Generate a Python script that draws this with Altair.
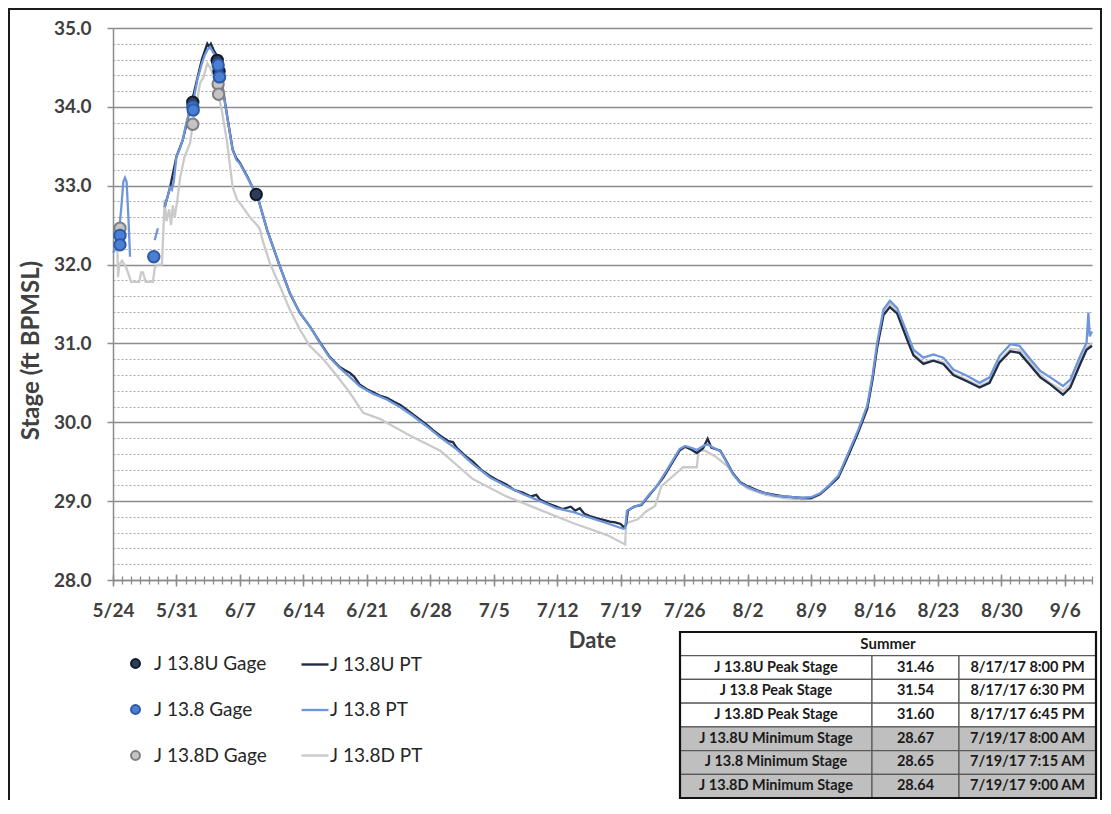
import altair as alt
import pandas as pd

# ---------------- data (days after 5/24/2017, stage in ft) ----------------
u_pt_days = [5.7, 6.3, 7.0, 7.7, 8.5, 9.3, 9.8, 10.1, 10.4, 10.6, 10.8, 11.1, 11.6, 12.0, 12.6, 13.2, 13.6,
             14.0, 14.8, 15.3, 15.9, 17.0, 18.4, 19.5, 20.6, 21.7, 22.8, 23.9, 25.0, 25.6, 26.1, 26.6, 27.2,
             28.0, 28.7, 29.4, 30.2, 31.0, 31.7, 32.4, 33.1, 33.8, 34.6, 35.3, 36.1, 37.0, 37.5, 37.9, 38.8,
             39.7, 40.6, 41.6, 42.5, 43.4, 44.3, 45.2, 46.1, 46.7, 47.1, 48.0, 48.9, 49.6, 50.5, 51.0, 51.5,
             52.0, 52.6, 53.5, 54.2, 54.8, 55.4, 56.0, 56.33, 56.6, 56.8, 57.5, 58.3, 59.2, 60.0, 60.7, 61.5,
             62.5, 63.1, 63.7, 64.4, 65.1, 65.6, 66.0, 67.0, 67.7, 68.4, 69.2, 70.0, 71.0, 72.0, 73.0, 74.0,
             75.0, 76.0, 77.0, 78.0, 79.0, 80.0, 80.7, 81.3, 82.2, 83.2, 83.8, 84.3, 85.0, 85.7, 86.5, 87.6,
             88.3, 89.4, 90.5, 91.6, 92.7, 94.2, 95.6, 96.7, 97.8, 99.0, 100.0, 101.2, 102.3, 103.4, 104.8,
             105.6, 106.7, 107.4, 108.0]
u_pt_vals = [32.73, 32.98, 33.37, 33.58, 33.97, 34.36, 34.60, 34.70, 34.80, 34.76, 34.80, 34.72, 34.62, 34.32,
             33.88, 33.46, 33.35, 33.29, 33.12, 33.00, 32.88, 32.44, 31.98, 31.64, 31.39, 31.22, 31.02, 30.83,
             30.70, 30.66, 30.63, 30.58, 30.48, 30.42, 30.38, 30.34, 30.31, 30.26, 30.22, 30.16, 30.10, 30.04,
             29.97, 29.90, 29.83, 29.76, 29.75, 29.68, 29.58, 29.50, 29.40, 29.32, 29.26, 29.21, 29.14, 29.11,
             29.06, 29.08, 29.02, 28.97, 28.93, 28.90, 28.93, 28.88, 28.91, 28.84, 28.81, 28.78, 28.76, 28.74,
             28.73, 28.71, 28.67, 28.70, 28.88, 28.93, 28.95, 29.08, 29.19, 29.30, 29.45, 29.64, 29.69, 29.66,
             29.61, 29.67, 29.79, 29.68, 29.64, 29.50, 29.35, 29.24, 29.19, 29.14, 29.10, 29.08, 29.06, 29.05,
             29.04, 29.04, 29.09, 29.19, 29.30, 29.47, 29.63, 29.87, 30.17, 30.55, 30.95, 31.36, 31.46, 31.38,
             31.05, 30.85, 30.74, 30.78, 30.74, 30.60, 30.52, 30.44, 30.50, 30.76, 30.90, 30.88, 30.72, 30.57,
             30.48, 30.35, 30.44, 30.74, 30.92, 30.97]

m_pt_days = [0.0, 0.3, 0.6, 0.9, 1.14, 1.32, 1.5, 1.7, 1.88,
             4.6, 4.95,
             5.7, 6.0, 6.3, 6.5, 6.7, 7.0, 7.3, 7.7, 8.1, 8.5, 8.9, 9.3, 9.8, 10.1, 10.4, 10.7, 11.1, 11.6,
             12.0, 12.6, 13.2, 13.6, 14.0, 14.8, 15.3, 15.9, 17.0, 18.4, 19.5, 20.6, 21.7, 22.8, 23.9, 25.0,
             26.1, 27.2, 28.7, 30.2, 31.7, 33.1, 34.6, 36.1, 37.9, 39.7, 41.6, 43.4, 45.2, 47.1, 48.9, 50.8,
             52.6, 54.5, 56.3, 56.5, 56.7, 57.5, 58.3, 59.2, 60.0, 60.7, 61.5, 62.5, 63.1, 63.7, 64.4, 65.1,
             65.6, 66.2, 67.0, 67.7, 68.4, 69.2, 70.0, 71.0, 72.0, 73.0, 74.0, 75.0, 76.0, 77.0, 78.0, 79.0,
             80.0, 80.7, 81.3, 82.2, 83.2, 83.8, 84.3, 85.0, 85.7, 86.5, 87.6, 88.3, 89.4, 90.5, 91.6, 92.7,
             94.2, 95.6, 96.7, 97.8, 99.0, 100.0, 101.2, 102.3, 103.4, 104.8, 105.6, 106.7, 107.4, 107.6,
             107.75, 108.0]
m_pt_vals = [32.15, 32.20, 32.35, 32.70, 33.05, 33.10, 33.05, 32.60, 32.10,
             32.31, 32.46,
             32.73, 32.85, 32.98, 32.95, 33.05, 33.37, 33.45, 33.58, 33.80, 33.96, 34.10, 34.34, 34.55, 34.65,
             34.72, 34.76, 34.68, 34.59, 34.30, 33.87, 33.45, 33.33, 33.28, 33.11, 33.00, 32.88, 32.44, 31.98,
             31.64, 31.39, 31.22, 31.01, 30.82, 30.69, 30.58, 30.46, 30.36, 30.29, 30.19, 30.08, 29.95, 29.81,
             29.66, 29.47, 29.30, 29.19, 29.09, 29.00, 28.91, 28.86, 28.79, 28.72, 28.65, 28.66, 28.88, 28.93,
             28.96, 29.09, 29.19, 29.32, 29.47, 29.66, 29.70, 29.68, 29.65, 29.70, 29.72, 29.68, 29.63, 29.49,
             29.34, 29.23, 29.18, 29.13, 29.10, 29.07, 29.06, 29.05, 29.04, 29.05, 29.10, 29.20, 29.32, 29.50,
             29.66, 29.90, 30.21, 30.60, 31.01, 31.43, 31.54, 31.45, 31.13, 30.92, 30.82, 30.86, 30.82, 30.67,
             30.59, 30.50, 30.57, 30.84, 30.99, 30.97, 30.80, 30.65, 30.57, 30.46, 30.54, 30.84, 31.01, 31.39,
             31.09, 31.15]
m_pt_seg = [1] * 9 + [2] * 2 + [3] * (len(m_pt_days) - 11)

d_pt_days = [0.45, 0.55, 0.7, 1.0, 1.5, 2.0, 2.2, 2.9, 3.1, 3.3, 3.6, 4.4, 4.6, 4.85, 5.4, 5.7, 5.9, 6.2, 6.4,
             6.6, 6.8, 7.1, 7.4, 7.9, 8.5, 8.8, 9.3, 9.6, 10.0, 10.4, 10.7, 10.9, 11.5, 12.0, 12.6, 13.2, 13.7,
             14.0, 14.8, 15.1, 15.9, 16.2, 16.5, 17.3, 18.4, 19.5, 20.6, 21.7, 23.2, 24.7, 26.1, 27.6, 29.5,
             30.9, 32.8, 36.1, 39.7, 43.4, 47.1, 50.8, 54.5, 56.5, 56.6, 57.9, 58.8, 59.8, 60.5, 61.8, 62.9,
             64.4, 64.6, 65.3, 66.4, 67.7, 69.2, 70.0, 72.0, 74.0, 76.0, 77.0, 78.0, 79.0, 80.0, 80.7, 81.3,
             82.2, 83.2, 83.8, 84.3, 85.0, 85.7, 86.5, 87.6, 88.3, 89.4, 90.5, 91.6, 92.7, 94.2, 95.6, 96.7,
             97.8, 99.0, 100.0, 101.2, 102.3, 103.4, 104.8, 105.6, 106.7, 107.4, 108.0]
d_pt_vals = [32.40, 31.84, 32.00, 32.05, 31.95, 31.78, 31.78, 31.78, 31.90, 31.90, 31.78, 31.78, 31.95, 32.00,
             32.00, 32.82, 32.55, 32.70, 32.50, 32.75, 32.60, 32.82, 33.10, 33.37, 33.54, 33.78, 34.09, 34.30,
             34.38, 34.55, 34.50, 34.45, 34.21, 33.96, 33.54, 32.98, 32.82, 32.78, 32.65, 32.60, 32.50, 32.45,
             32.31, 32.02, 31.73, 31.43, 31.18, 30.97, 30.80, 30.59, 30.38, 30.12, 30.04, 29.95, 29.83, 29.64,
             29.28, 29.06, 28.89, 28.72, 28.57, 28.45, 28.72, 28.77, 28.87, 28.94, 29.19, 29.32, 29.43, 29.43,
             29.64, 29.64, 29.57, 29.45, 29.23, 29.16, 29.08, 29.04, 29.02, 29.03, 29.08, 29.18, 29.30, 29.48,
             29.63, 29.88, 30.18, 30.55, 30.95, 31.38, 31.50, 31.42, 31.08, 30.87, 30.76, 30.79, 30.76, 30.62,
             30.54, 30.46, 30.52, 30.78, 30.93, 30.92, 30.76, 30.60, 30.50, 30.40, 30.48, 30.78, 30.95, 31.00]

u_gage_days = [8.8, 11.5, 11.7, 15.8]
u_gage_vals = [34.06, 34.59, 34.45, 32.89]
m_gage_days = [0.77, 0.77, 4.5, 8.8, 8.85, 11.6, 11.75]
m_gage_vals = [32.37, 32.25, 32.10, 34.00, 33.96, 34.53, 34.38]
d_gage_days = [0.77, 8.8, 11.6, 11.65]
d_gage_vals = [32.46, 33.78, 34.29, 34.16]

gage_names = ["J 13.8U Gage", "J 13.8 Gage", "J 13.8D Gage"]
pt_names = ["J 13.8U PT", "J 13.8 PT", "J 13.8D PT"]

table_title = "Summer"
table_labels = ["J 13.8U Peak Stage", "J 13.8 Peak Stage", "J 13.8D Peak Stage",
                "J 13.8U Minimum Stage", "J 13.8 Minimum Stage", "J 13.8D Minimum Stage"]
table_values = ["31.46", "31.54", "31.60", "28.67", "28.65", "28.64"]
table_times = ["8/17/17 8:00 PM", "8/17/17 6:30 PM", "8/17/17 6:45 PM",
               "7/19/17 8:00 AM", "7/19/17 7:15 AM", "7/19/17 9:00 AM"]

# ---------------- styling ----------------
FONT = "Lato"
TXT = "#404040"
AX = "#8c8c8c"
pt_colors = ["#1f2c44", "#6f96da", "#cacaca"]
gage_fill = ["#2e3d57", "#4b7fd4", "#c4c4c4"]
gage_stroke = ["#101a2b", "#2c5aa6", "#7f7f7f"]
W, H = 979, 552
N_DAYS = 108
BASE = pd.Timestamp("2017-05-24")


def ts(d):
    return (BASE + pd.Timedelta(days=d)).strftime("%Y-%m-%dT%H:%M:%S")


def dtobj(d):
    t = BASE + pd.Timedelta(days=d)
    return alt.DateTime(year=t.year, month=t.month, date=t.day)


X_DOMAIN = [dtobj(0), dtobj(N_DAYS)]
week_vals = [dtobj(7 * k) for k in range(N_DAYS // 7 + 1)]
day_vals = [dtobj(k) for k in range(N_DAYS + 1)]
major_y = list(range(28, 36))
minor_y = [round(28 + 0.2 * i, 1) for i in range(36) if i % 5 != 0]


def X(axis=None):
    return alt.X("t:T", scale=alt.Scale(domain=X_DOMAIN, nice=False), axis=axis)


def Y(axis=None):
    return alt.Y("v:Q", scale=alt.Scale(domain=[28, 35], nice=False, zero=False), axis=axis)


# ---------------- frames ----------------
rows = []
for name, days, vals in [(pt_names[0], u_pt_days, u_pt_vals), (pt_names[2], d_pt_days, d_pt_vals)]:
    for d, v in zip(days, vals):
        rows.append({"t": ts(d), "v": v, "series": name, "seg": 1})
for d, v, s in zip(m_pt_days, m_pt_vals, m_pt_seg):
    rows.append({"t": ts(d), "v": v, "series": pt_names[1], "seg": s})
lines_df = pd.DataFrame(rows)

grows = []
for name, days, vals in [(gage_names[2], d_gage_days, d_gage_vals),
                         (gage_names[0], u_gage_days, u_gage_vals),
                         (gage_names[1], m_gage_days, m_gage_vals)]:
    for d, v in zip(days, vals):
        grows.append({"t": ts(d), "v": v, "name": name})
gage_df = pd.DataFrame(grows)

anchor = pd.DataFrame({"t": [ts(0)], "v": [30.0]})

# ---------------- axes / grid layers ----------------
grid_minor = alt.Chart(anchor).mark_point(opacity=0).encode(
    x=X(None),
    y=Y(alt.Axis(orient="left", values=minor_y, grid=True, gridColor="#a8a8a8", gridDash=[2, 2],
                 gridWidth=1, labels=False, ticks=False, domain=False, title=None)),
)

axis_main = alt.Chart(anchor).mark_point(opacity=0).encode(
    x=X(alt.Axis(orient="bottom", values=week_vals, format="%-m/%-d", grid=False, domain=True,
                 domainColor=AX, domainWidth=1.5, ticks=True, tickSize=6, tickColor=AX, tickWidth=1.5,
                 labelFont=FONT, labelFontSize=19, labelFontWeight="bold", labelColor=TXT,
                 labelPadding=15, labelFlush=False, labelOverlap=False, labelBound=False,
                 title="Date", titleFont=FONT, titleFontSize=22, titleFontWeight="bold",
                 titleColor=TXT, titleX=479, titleY=60, titleBaseline="middle")),
    y=Y(alt.Axis(orient="left", values=major_y, format=".1f", grid=True, gridColor=AX, gridWidth=1.6,
                 domain=True, domainColor=AX, domainWidth=1.5, ticks=True, tickSize=6,
                 tickColor=AX, tickWidth=1.5, labelFont=FONT, labelFontSize=19,
                 labelFontWeight="bold", labelColor=TXT, labelPadding=16, labelFlush=False,
                 title="Stage (ft BPMSL)", titleFont=FONT, titleFontSize=24, titleFontWeight="bold",
                 titleColor=TXT, titleX=-82, titleY=322, titleBaseline="middle")),
)

minor_bottom = alt.Chart(anchor).mark_point(opacity=0).encode(
    x=X(alt.Axis(orient="bottom", values=day_vals, grid=False, domain=False, labels=False, ticks=True,
                 tickSize=4, tickColor=AX, tickWidth=1.3, title=None)),
    y=Y(None),
)
minor_top = alt.Chart(anchor).mark_point(opacity=0).encode(
    x=X(alt.Axis(orient="top", offset=-H, values=day_vals, grid=False, domain=False, labels=False,
                 ticks=True, tickSize=4, tickColor=AX, tickWidth=1.3, title=None)),
    y=Y(None),
)
major_top = alt.Chart(anchor).mark_point(opacity=0).encode(
    x=X(alt.Axis(orient="top", offset=-H, values=week_vals, grid=False, domain=False, labels=False,
                 ticks=True, tickSize=6, tickColor=AX, tickWidth=1.5, title=None)),
    y=Y(None),
)

# ---------------- series ----------------
pt_legend = alt.Legend(orient="none", legendX=187, legendY=621.5, title=None, symbolType="stroke",
                       symbolSize=729, symbolStrokeWidth=2.4, labelFont=FONT, labelFontSize=19,
                       labelColor="#262626", labelOffset=0, rowPadding=20.5, padding=0)


def pt_line(name):
    return alt.Chart(lines_df[lines_df.series == name]).mark_line(strokeWidth=2.3).encode(
        x=X(None), y=Y(None),
        stroke=alt.Stroke("series:N", scale=alt.Scale(domain=pt_names, range=pt_colors), legend=pt_legend),
        detail="seg:N",
        order=alt.Order("t:T"),
    )


lines = alt.layer(pt_line(pt_names[2]), pt_line(pt_names[0]), pt_line(pt_names[1]))

gage_legend_kw = dict(orient="none", legendX=13, legendY=626, title=None, symbolType="circle",
                      symbolSize=80, symbolStrokeWidth=2, labelFont=FONT, labelFontSize=19,
                      labelColor="#262626", labelOffset=9, rowPadding=26, padding=0)
points = alt.Chart(gage_df).mark_point(filled=True, size=130, strokeWidth=2, opacity=1).encode(
    x=X(None), y=Y(None),
    fill=alt.Fill("name:N", scale=alt.Scale(domain=gage_names, range=gage_fill),
                  legend=alt.Legend(**gage_legend_kw)),
    stroke=alt.Stroke("name:N", scale=alt.Scale(domain=gage_names, range=gage_stroke),
                      legend=alt.Legend(**gage_legend_kw)),
)

# ---------------- summary table ----------------
col_w = [192, 87, 137]
tab_rows = []
tot_w = sum(col_w)
tab_rows.append({"x0": 0, "x1": tot_w, "y0": 0, "y1": 1, "xc": tot_w / 2, "yc": 0.5,
                 "txt": table_title, "fill": "#ffffff", "fs": "h"})
for i, (lab, val, tm) in enumerate(zip(table_labels, table_values, table_times)):
    fill = "#ffffff" if i < 3 else "#bfbfbf"
    x = 0
    for w, txt in zip(col_w, [lab, val, tm]):
        tab_rows.append({"x0": x, "x1": x + w, "y0": i + 1, "y1": i + 2, "xc": x + w / 2,
                         "yc": i + 1.5, "txt": txt, "fill": fill, "fs": "b"})
        x += w
tab_df = pd.DataFrame(tab_rows)

TX = alt.Scale(domain=[0, tot_w], range=[567, 567 + tot_w])
TY = alt.Scale(domain=[0, 7], range=[604, 770])

cells = alt.Chart(tab_df).mark_rect(stroke="#595959", strokeWidth=1.2).encode(
    x=alt.X("x0:Q", scale=TX, axis=None), x2="x1:Q",
    y=alt.Y("y0:Q", scale=TY, axis=None), y2="y1:Q",
    fill=alt.Fill("fill:N", scale=None),
)
cell_text = alt.Chart(tab_df).mark_text(font=FONT, fontWeight="bold", color="#1a1a1a",
                                        baseline="middle", align="center").encode(
    x=alt.X("xc:Q", scale=TX, axis=None),
    y=alt.Y("yc:Q", scale=TY, axis=None),
    text="txt:N",
    size=alt.Size("fs:N", scale=alt.Scale(domain=["h", "b"], range=[15, 14.5]), legend=None),
)
outline = alt.Chart(pd.DataFrame({"x0": [0], "x1": [tot_w], "y0": [0], "y1": [7]})).mark_rect(
    fill="transparent", stroke="#111111", strokeWidth=2.2).encode(
    x=alt.X("x0:Q", scale=TX, axis=None), x2="x1:Q",
    y=alt.Y("y0:Q", scale=TY, axis=None), y2="y1:Q",
)
table = alt.layer(cells, cell_text, outline)

# decorative picture frame
frame = alt.Chart(pd.DataFrame({"a": [0]})).mark_rect(
    fill="transparent", stroke="#1a1a1a", strokeWidth=2).encode(
    x=alt.value(-104), x2=alt.value(988), y=alt.value(-19), y2=alt.value(820))

chart = alt.layer(
    grid_minor, axis_main, minor_bottom, minor_top, major_top, lines, points, table, frame
).resolve_scale(
    x="independent", y="independent", stroke="independent", fill="independent", size="independent"
).resolve_axis(
    x="independent", y="independent"
).properties(
    width=W, height=H,
    padding={"left": 105, "top": 20, "right": 10, "bottom": 220},
    autosize=alt.AutoSizeParams(type="none"),
    background="white",
).configure_view(stroke=None)

chart.save("out.html", embed_options={"renderer": "svg", "actions": False})
